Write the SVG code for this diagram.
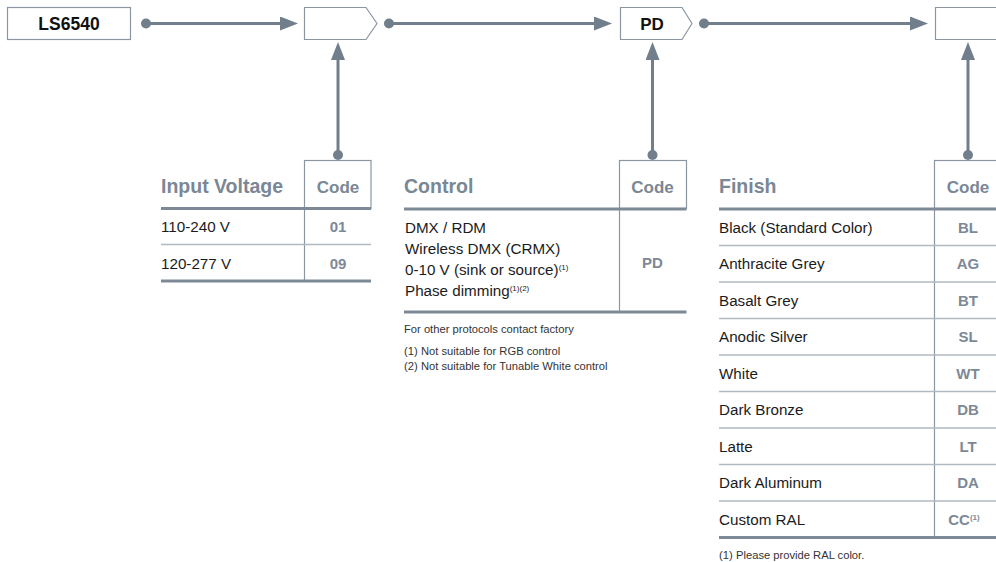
<svg xmlns="http://www.w3.org/2000/svg" width="996" height="562" viewBox="0 0 996 562">
<style>
.conn{stroke:#717e8b;stroke-width:3;fill:none}
.dot{fill:#717e8b}
.box{fill:#fff;stroke:#8b96a2;stroke-width:1.2}
.thick{stroke:#7d8996;stroke-width:3}
.thin{stroke:#b0b8c0;stroke-width:1.5}
.vsep{stroke:#8b96a2;stroke-width:1.2}
text{font-family:"Liberation Sans",Arial,sans-serif}
.id{font-weight:bold;font-size:17.5px;fill:#111;text-anchor:middle}
.hdr{font-weight:bold;font-size:19.5px;fill:#7a8795}
.codeh{font-weight:bold;font-size:17px;fill:#7a8795;text-anchor:middle}
.cell{font-size:15.2px;fill:#1b1b1b}
.code{font-weight:bold;font-size:15px;fill:#7d8996;text-anchor:middle}
.note{font-size:11.2px;fill:#333}
.sup{font-size:8px}
</style>
<defs>
<marker id="arr" markerUnits="userSpaceOnUse" markerWidth="18" markerHeight="14" refX="8" refY="7" orient="auto">
<path d="M0,0 L18,7 L0,14 z" fill="#717e8b"/>
</marker>
</defs>

<g id="connectors">
<line class="conn" x1="146" y1="23.5" x2="288" y2="23.5" marker-end="url(#arr)"/>
<circle class="dot" cx="146" cy="23.5" r="5"/>
<line class="conn" x1="389" y1="23.5" x2="602" y2="23.5" marker-end="url(#arr)"/>
<circle class="dot" cx="389" cy="23.5" r="5"/>
<line class="conn" x1="704" y1="23.5" x2="918" y2="23.5" marker-end="url(#arr)"/>
<circle class="dot" cx="704" cy="23.5" r="5"/>
<line class="conn" x1="338" y1="155" x2="338" y2="52" marker-end="url(#arr)"/>
<circle class="dot" cx="338" cy="155" r="5"/>
<line class="conn" x1="652.5" y1="155" x2="652.5" y2="52" marker-end="url(#arr)"/>
<circle class="dot" cx="652.5" cy="155" r="5"/>
<line class="conn" x1="968" y1="155" x2="968" y2="52" marker-end="url(#arr)"/>
<circle class="dot" cx="968" cy="155" r="5"/>
</g>

<g id="n-model">
<rect class="box" x="7.5" y="7.5" width="123" height="32"/>
<text class="id" x="69" y="29.5">LS6540</text>
</g>
<g id="n-voltage-slot">
<polygon class="box" points="304.5,7.5 366,7.5 377,23.5 366,39.5 304.5,39.5"/>
</g>
<g id="n-control-slot">
<polygon class="box" points="620.5,7.5 682,7.5 692,23.5 682,39.5 620.5,39.5"/>
<text class="id" x="652" y="29.5" style="font-size:17px">PD</text>
</g>
<g id="n-finish-slot">
<polygon class="box" points="935.5,7.5 997,7.5 1008,23.5 997,39.5 935.5,39.5"/>
</g>

<g id="t-voltage">
<rect class="box" x="304.5" y="160.5" width="66.5" height="48"/>
<line class="vsep" x1="304.5" y1="208" x2="304.5" y2="281"/>
<line class="thick" x1="161" y1="208.5" x2="371" y2="208.5"/>
<line class="thin" x1="161" y1="244.5" x2="371" y2="244.5"/>
<line class="thick" x1="161" y1="281" x2="371" y2="281"/>
<text class="hdr" x="161" y="193">Input Voltage</text>
<text class="codeh" x="338" y="193">Code</text>
<text class="cell" x="161" y="232">110-240 V</text>
<text class="code" x="338" y="232">01</text>
<text class="cell" x="161" y="268.5">120-277 V</text>
<text class="code" x="338" y="268.5">09</text>
</g>

<g id="t-control">
<rect class="box" x="619.5" y="160.5" width="67" height="48"/>
<line class="vsep" x1="619.5" y1="208" x2="619.5" y2="312"/>
<line class="thick" x1="404" y1="209" x2="686.5" y2="209"/>
<line class="thick" x1="404" y1="312" x2="686.5" y2="312"/>
<text class="hdr" x="404" y="193">Control</text>
<text class="codeh" x="652.5" y="193">Code</text>
<text class="cell" x="405" y="233">DMX / RDM</text>
<text class="cell" x="405" y="254">Wireless DMX (CRMX)</text>
<text class="cell" x="405" y="275">0-10 V (sink or source)<tspan class="sup" dy="-5">(1)</tspan></text>
<text class="cell" x="405" y="295.5">Phase dimming<tspan class="sup" dy="-5">(1)(2)</tspan></text>
<text class="code" x="652.5" y="268">PD</text>
<text class="note" x="404" y="333">For other protocols contact factory</text>
<text class="note" x="404" y="355">(1)<tspan x="421">Not suitable for RGB control</tspan></text>
<text class="note" x="404" y="369.5">(2)<tspan x="421">Not suitable for Tunable White control</tspan></text>
</g>

<g id="t-finish">
<rect class="box" x="934.5" y="160.5" width="68" height="48"/>
<line class="vsep" x1="934.5" y1="208" x2="934.5" y2="537.5"/>
<line class="thick" x1="719" y1="209" x2="1000" y2="209"/>
<line class="thin" x1="719" y1="245.5" x2="1000" y2="245.5"/>
<line class="thin" x1="719" y1="282" x2="1000" y2="282"/>
<line class="thin" x1="719" y1="318.5" x2="1000" y2="318.5"/>
<line class="thin" x1="719" y1="355" x2="1000" y2="355"/>
<line class="thin" x1="719" y1="391.5" x2="1000" y2="391.5"/>
<line class="thin" x1="719" y1="428" x2="1000" y2="428"/>
<line class="thin" x1="719" y1="464.5" x2="1000" y2="464.5"/>
<line class="thin" x1="719" y1="501" x2="1000" y2="501"/>
<line class="thick" x1="719" y1="537.5" x2="1000" y2="537.5"/>
<text class="hdr" x="719" y="193">Finish</text>
<text class="codeh" x="968" y="193">Code</text>
<text class="cell" x="719" y="232.5">Black (Standard Color)</text>
<text class="code" x="968" y="232.5">BL</text>
<text class="cell" x="719" y="269">Anthracite Grey</text>
<text class="code" x="968" y="269">AG</text>
<text class="cell" x="719" y="305.5">Basalt Grey</text>
<text class="code" x="968" y="305.5">BT</text>
<text class="cell" x="719" y="342">Anodic Silver</text>
<text class="code" x="968" y="342">SL</text>
<text class="cell" x="719" y="378.5">White</text>
<text class="code" x="968" y="378.5">WT</text>
<text class="cell" x="719" y="415">Dark Bronze</text>
<text class="code" x="968" y="415">DB</text>
<text class="cell" x="719" y="451.5">Latte</text>
<text class="code" x="968" y="451.5">LT</text>
<text class="cell" x="719" y="488">Dark Aluminum</text>
<text class="code" x="968" y="488">DA</text>
<text class="cell" x="719" y="524.5">Custom RAL</text>
<text class="code" x="964" y="524.5">CC<tspan class="sup" dy="-5">(1)</tspan></text>
<text class="note" x="719" y="559">(1)<tspan x="736">Please provide RAL color.</tspan></text>
</g>
</svg>
